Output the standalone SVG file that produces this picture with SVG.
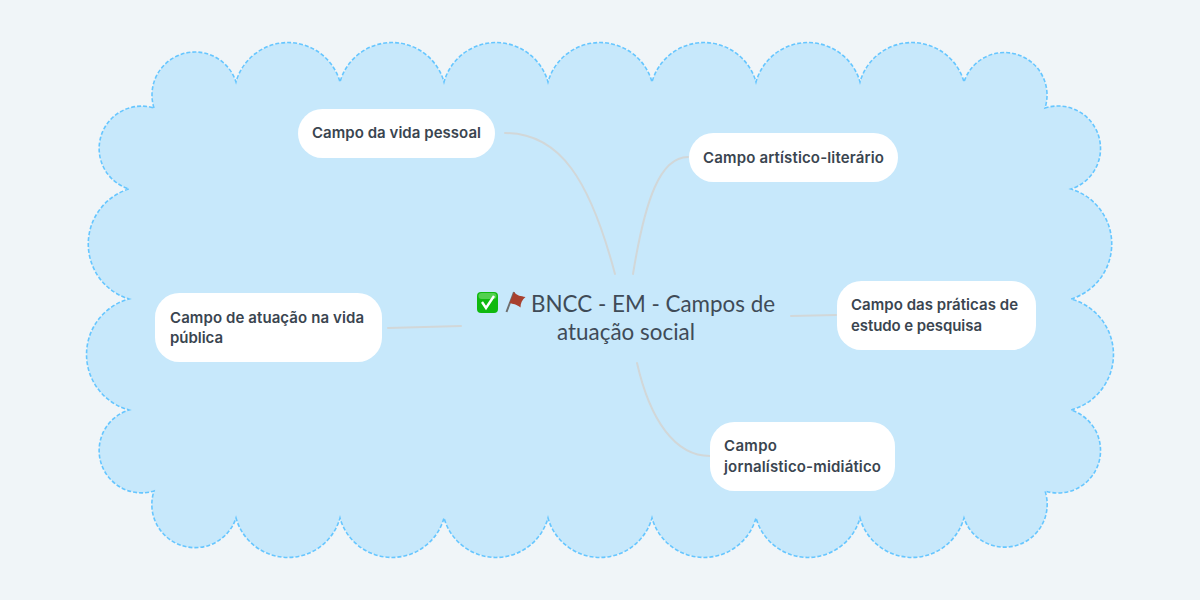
<svg xmlns="http://www.w3.org/2000/svg" width="1200" height="600" viewBox="0 0 1200 600">
<style>
.cloud{fill:#c7e8fb;stroke:#66c6ff;stroke-width:1.6;stroke-dasharray:4 2}
.box{fill:#fff}
.edge{fill:none;stroke:#d2d7d8;stroke-width:2;stroke-linecap:round}
.t{font-family:"Inter","Lato","Liberation Sans",sans-serif;font-size:15px;font-weight:600;fill:#3a4550}
.c{font-family:"Lato","Inter","Liberation Sans",sans-serif;font-size:22.4px;fill:#3f4b57}
</style>
<rect width="1200" height="600" fill="#f0f5f8"/>
<path id="cloud" class="cloud" d="M154 108A40 40 0 0 1 236 82A54 54 0 0 1 340 82A54 54 0 0 1 444 82A54 54 0 0 1 548 82A54 54 0 0 1 652 82A54 54 0 0 1 756 82A54 54 0 0 1 860 82A54 54 0 0 1 964 82A40 40 0 0 1 1045 108A40 40 0 0 1 1071 189A57.500 57.500 0 0 1 1071 299A57.500 57.500 0 0 1 1071 410A40 40 0 0 1 1045 491A40 40 0 0 1 964 518A54 54 0 0 1 860 518A54 54 0 0 1 756 518A54 54 0 0 1 652 518A54 54 0 0 1 548 518A54 54 0 0 1 444 518A54 54 0 0 1 340 518A54 54 0 0 1 236 518A40 40 0 0 1 154 491A40 40 0 0 1 129 410A57.500 57.500 0 0 1 129 299A57.500 57.500 0 0 1 129 189A40 40 0 0 1 154 108Z"/>
<g id="connectors">
<path class="edge" d="M505 133C560 133 590 180 615 274"/>
<path class="edge" d="M688 157C660 157 645 200 633 274"/>
<path class="edge" d="M388 328L461 326"/>
<path class="edge" d="M791 316L836 315"/>
<path class="edge" d="M637 363C650 420 675 456 710 456"/>
</g>
<g id="center">
<rect x="477" y="292" width="21" height="21" rx="4" fill="#10b90f"/>
<rect x="478.500" y="293" width="18" height="6" rx="3" fill="#7fe07a" opacity=".6"/>
<path d="M482 302L486 308L494 296" fill="none" stroke="#fff" stroke-width="2.4"/>
<path d="M506.500 312L514 292" stroke="#6f6f6f" stroke-width="2"/>
<path d="M514 292C517 296 521 296 525.500 297C522 300 520.500 303 520.500 307.500C516 304 513 304 509.500 303Z" fill="#a8412f"/>
<text class="c" x="531" y="312" textLength="244">BNCC - EM - Campos de</text>
<text class="c" x="557" y="340" textLength="138">atuação social</text>
</g>
<g id="n1"><rect class="box" x="298" y="109" width="197" height="49" rx="24.5"/><text class="t" x="312" y="138" textLength="169">Campo da vida pessoal</text></g>
<g id="n2"><rect class="box" x="689" y="133" width="209" height="49" rx="24.5"/><text class="t" x="703" y="163" textLength="181">Campo artístico-literário</text></g>
<g id="n3"><rect class="box" x="155" y="293" width="227" height="69" rx="24.5"/><text class="t" x="170" y="323" textLength="194">Campo de atuação na vida</text><text class="t" x="170" y="343" textLength="53">pública</text></g>
<g id="n4"><rect class="box" x="837" y="281" width="199" height="69" rx="24.5"/><text class="t" x="851" y="310" textLength="167">Campo das práticas de</text><text class="t" x="851" y="331" textLength="131">estudo e pesquisa</text></g>
<g id="n5"><rect class="box" x="710" y="422" width="185" height="69" rx="24.5"/><text class="t" x="724" y="451" textLength="53">Campo</text><text class="t" x="724" y="472" textLength="157">jornalístico-midiático</text></g>
</svg>
